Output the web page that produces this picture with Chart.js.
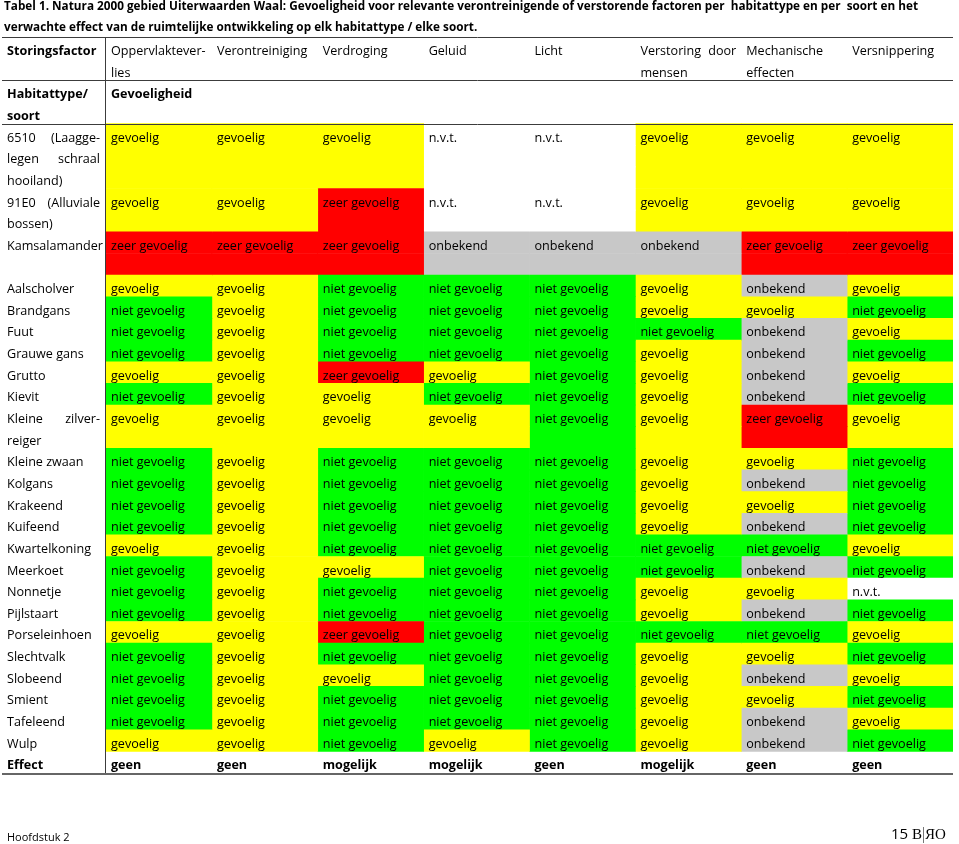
<!DOCTYPE html>
<html lang="nl">
<head>
<meta charset="utf-8">
<title>Tabel 1 - Gevoeligheid Uiterwaarden Waal</title>
<script src="https://cdn.jsdelivr.net/npm/chart.js@4.4.1/dist/chart.umd.min.js"></script>
<style>
  body { margin: 0; background: #fff; }
  #page { position: relative; width: 959px; height: 844px; overflow: hidden; font-family: "Open Sans", sans-serif; color: #000; }
  #chart-box { position: absolute; left: 0; top: 0; width: 959px; height: 844px; }
  #title { position: absolute; left: 4px; top: -5px; font-weight: bold; font-size: 12.5px; line-height: 21px; white-space: pre; z-index: 2; transform-origin: 0 0; }
  .foot { position: absolute; line-height: 1; white-space: nowrap; z-index: 2; }
  #hoofdstuk { left: 7px; top: 831px; font-size: 11px; }
  #pagenr { left: 891px; top: 826px; font-size: 15px; }
  #logo { left: 912px; top: 827px; font-size: 15px; font-family: "Liberation Serif", "DejaVu Serif", serif; }
  #logo .bar { display: inline-block; width: 0; height: 16px; border-left: 1px solid #777; vertical-align: -4px; margin: 0 1px; }
</style>
</head>
<body>
<div id="page">
  <div id="chart-box"><canvas id="sensitivity-table"></canvas></div>
  <div id="title"><span id="title-1">Tabel 1. Natura 2000 gebied Uiterwaarden Waal: Gevoeligheid voor relevante verontreinigende of verstorende factoren per  habitattype en per  soort en het</span>
verwachte effect van de ruimtelijke ontwikkeling op elk habitattype / elke soort.</div>
  <div class="foot" id="hoofdstuk">Hoofdstuk 2</div>
  <div class="foot" id="pagenr">15</div>
  <div class="foot" id="logo">B<span class="bar"></span>ЯO</div>
</div>
<script>
// storingsfactoren (kolommen), zoals ze in de kop worden afgebroken
const factorHeaders = [
  ["Oppervlaktever-", "lies"],
  ["Verontreiniging"],
  ["Verdroging"],
  ["Geluid"],
  ["Licht"],
  ["Verstoring door", "mensen"],
  ["Mechanische", "effecten"],
  ["Versnippering"],
];

// habitattypen / soorten (rijen), met hun regelafbreking
const habitats = [
  ["6510 (Laagge-", "legen schraal", "hooiland)"],
  ["91E0 (Alluviale", "bossen)"],
  ["Kamsalamander", ""],
  ["Aalscholver"],
  ["Brandgans"],
  ["Fuut"],
  ["Grauwe gans"],
  ["Grutto"],
  ["Kievit"],
  ["Kleine zilver-", "reiger"],
  ["Kleine zwaan"],
  ["Kolgans"],
  ["Krakeend"],
  ["Kuifeend"],
  ["Kwartelkoning"],
  ["Meerkoet"],
  ["Nonnetje"],
  ["Pijlstaart"],
  ["Porseleinhoen"],
  ["Slechtvalk"],
  ["Slobeend"],
  ["Smient"],
  ["Tafeleend"],
  ["Wulp"],
];

// gevoeligheid per factor: g = gevoelig, n = niet gevoelig, z = zeer gevoelig, o = onbekend, v = n.v.t.
const oppervlakteverlies = ["g","g","z","g","n","n","n","g","n","g","n","n","n","n","g","n","n","n","g","n","n","n","n","g"];
const verontreiniging    = ["g","g","z","g","g","g","g","g","g","g","g","g","g","g","g","g","g","g","g","g","g","g","g","g"];
const verdroging         = ["g","z","z","n","n","n","n","z","g","g","n","n","n","n","n","g","n","n","z","n","g","n","n","n"];
const geluid             = ["v","v","o","n","n","n","n","g","n","g","n","n","n","n","n","n","n","n","n","n","n","n","n","g"];
const licht              = ["v","v","o","n","n","n","n","n","n","n","n","n","n","n","n","n","n","n","n","n","n","n","n","n"];
const verstoring         = ["g","g","o","g","g","n","g","g","g","g","g","g","g","g","n","n","g","g","n","g","g","g","g","g"];
const mechanisch         = ["g","g","z","o","g","o","o","o","o","z","g","o","g","o","n","o","g","o","n","g","o","g","o","o"];
const versnippering      = ["g","g","z","g","n","g","n","g","n","g","n","n","n","n","g","n","v","n","g","n","g","n","g","n"];

const effect = ["geen", "geen", "mogelijk", "mogelijk", "geen", "mogelijk", "geen", "geen"];

const codeText = { g: "gevoelig", n: "niet gevoelig", z: "zeer gevoelig", o: "onbekend", v: "n.v.t." };
const codeColour = { g: "#ffff00", n: "#00ff00", z: "#ff0000", o: "#c8c8c8", v: "#ffffff" };

const sensitivity = [oppervlakteverlies, verontreiniging, verdroging, geluid, licht, verstoring, mechanisch, versnippering];

const REG = '12.6px "Open Sans", sans-serif';
const BOLD = 'bold 12.6px "Open Sans", sans-serif';

// every text line of the table becomes one category on the y axis
const lines = [];
for (let k = 0; k < 2; k++) {
  lines.push({
    label: k === 0 ? "Storingsfactor" : "",
    labelBold: true,
    cells: factorHeaders.map(h => h[k] || ""),
    cellJustify: factorHeaders.map(h => k < h.length - 1),
    codes: null,
  });
}
["Habitattype/", "soort"].forEach((t, k) => {
  lines.push({ label: t, labelBold: true, cells: k === 0 ? ["Gevoeligheid"] : [], cellBold: true, codes: null });
});
habitats.forEach((rowLabel, r) => {
  const codes = sensitivity.map(col => col[r]);
  rowLabel.forEach((t, k) => {
    lines.push({
      label: t,
      labelJustify: k < rowLabel.length - 1 && t.includes(" "),
      cells: k === 0 ? codes.map(c => codeText[c]) : [],
      codes: codes,
    });
  });
});
lines.push({ label: "Effect", labelBold: true, cells: effect, cellBold: true, codes: null });

function drawLine(ctx, text, x, y, width) {
  const words = text.split(/\s+/).filter(Boolean);
  if (!width || words.length < 2) { ctx.fillText(text, x, y); return; }
  const used = words.reduce((s, w) => s + ctx.measureText(w).width, 0);
  const gap = (width - used) / (words.length - 1);
  let cx = x;
  words.forEach(w => { ctx.fillText(w, cx, y); cx += ctx.measureText(w).width + gap; });
}

const tablePlugin = {
  id: "tableText",
  afterDatasetsDraw(chart) {
    const ctx = chart.ctx;
    const xs = chart.scales.x, ys = chart.scales.y;
    const band = ys.getPixelForValue(1) - ys.getPixelForValue(0);
    const lineTop = i => ys.getPixelForValue(i) - band / 2;
    const colLeft = c => xs.getPixelForValue(c);
    const colW = colLeft(1) - colLeft(0);
    const labels = ys.getLabels();

    ctx.save();
    ctx.fillStyle = "#000";
    ctx.textBaseline = "alphabetic";
    ctx.textAlign = "left";
    lines.forEach((ln, i) => {
      const base = lineTop(i) + 18;
      ctx.font = ln.labelBold ? BOLD : REG;
      drawLine(ctx, labels[i], 7, base, ln.labelJustify ? colLeft(0) - 13 : 0);
      ctx.font = ln.cellBold ? BOLD : REG;
      ln.cells.forEach((t, c) => {
        const just = ln.cellJustify && ln.cellJustify[c];
        drawLine(ctx, t, colLeft(c) + 5, base, just ? colW - 10 : 0);
      });
    });

    // table rules
    ctx.strokeStyle = "#3c3c3c";
    ctx.lineWidth = 1;
    const left = 2, right = xs.right;
    [0, 2, 4].forEach(i => {
      const y = Math.round(lineTop(i)) + 0.5;
      ctx.beginPath(); ctx.moveTo(left, y); ctx.lineTo(right, y); ctx.stroke();
    });
    const vx = Math.round(colLeft(0)) - 0.5;
    ctx.beginPath(); ctx.moveTo(vx, Math.round(lineTop(0))); ctx.lineTo(vx, ys.bottom); ctx.stroke();
    ctx.strokeStyle = "#666";
    ctx.lineWidth = 2;
    const by = Math.round(ys.bottom) + 1;
    ctx.beginPath(); ctx.moveTo(left, by); ctx.lineTo(right, by); ctx.stroke();
    ctx.restore();
  },
};

const datasets = sensitivity.map((col, c) => ({
  label: factorHeaders[c].join(" "),
  data: lines.map(ln => (ln.codes ? [c, c + 1] : null)),
  backgroundColor: lines.map(ln => (ln.codes ? codeColour[ln.codes[c]] : "transparent")),
  grouped: false,
  barPercentage: 1,
  categoryPercentage: 1,
  borderWidth: 0,
  borderSkipped: false,
}));

// squeeze the bold caption to the width it has in the original
const t1 = document.getElementById("title-1");
const w1 = t1.getBoundingClientRect().width;
document.getElementById("title").style.transform = "scaleX(" + (914 / w1).toFixed(4) + ")";

new Chart(document.getElementById("sensitivity-table"), {
  type: "bar",
  data: { labels: lines.map(ln => ln.label), datasets: datasets },
  options: {
    indexAxis: "y",
    responsive: true,
    maintainAspectRatio: false,
    animation: false,
    layout: { padding: { left: 106, right: 6, top: 37, bottom: 71 } },
    scales: {
      x: { type: "linear", min: 0, max: 8, display: false },
      y: { type: "category", display: false },
    },
    plugins: { legend: { display: false }, tooltip: { enabled: false }, title: { display: false } },
  },
  plugins: [tablePlugin],
});
</script>
</body>
</html>
